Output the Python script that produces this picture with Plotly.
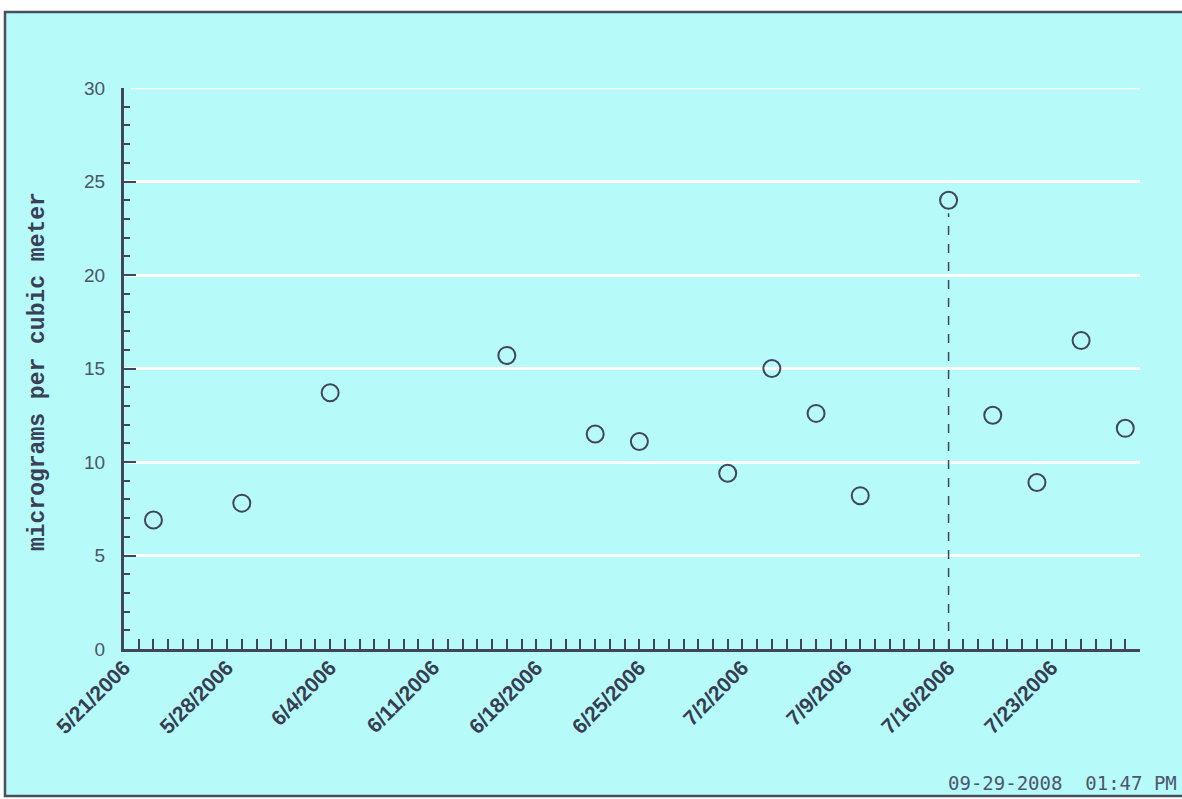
import plotly.graph_objects as go

# Data
dates = ["2006-05-23", "2006-05-29", "2006-06-04", "2006-06-16", "2006-06-22",
         "2006-06-25", "2006-07-01", "2006-07-04", "2006-07-07", "2006-07-10",
         "2006-07-16", "2006-07-19", "2006-07-22", "2006-07-25", "2006-07-28"]
values = [6.9, 7.8, 13.7, 15.7, 11.5, 11.1, 9.4, 15.0, 12.6, 8.2,
          24.0, 12.5, 8.9, 16.5, 11.8]
marked_date = "2006-07-16"
marked_value = 24.0
x_range = ["2006-05-21", "2006-07-29"]
y_range = [0, 30]
y_title = "micrograms per cubic meter"
footer = "09-29-2008&nbsp;&nbsp;01:47 PM"

BG = "#b6fafa"
DARK = "#41465a"

W, H = 1182, 799
L, R, T, B = 124, 1140, 88, 649
pw, ph = R - L, B - T

def px_x(x):
    return (x - L) / pw

def px_y(y):
    return (B - y) / ph

fig = go.Figure()
fig.add_trace(go.Scatter(
    x=[marked_date, marked_date], y=[0, marked_value - 0.7], mode="lines",
    line=dict(color=DARK, width=1.5, dash="dash"), hoverinfo="skip",
    showlegend=False))
fig.add_trace(go.Scatter(
    x=dates, y=values, mode="markers",
    marker=dict(symbol="circle-open", size=17, color=DARK,
                line=dict(width=2, color=DARK)),
    showlegend=False))

fig.update_layout(
    width=W, height=H,
    margin=dict(l=L, r=W - R, t=T, b=H - B, autoexpand=False),
    paper_bgcolor="white",
    plot_bgcolor="rgba(0,0,0,0)",
    showlegend=False,
    xaxis=dict(
        type="date", range=x_range,
        tick0=x_range[0], dtick=7 * 86400000,
        tickformat="%-m/%-d/%Y", tickangle=-45,
        ticks="inside", ticklen=10, tickwidth=2, tickcolor=DARK,
        minor=dict(dtick=86400000, tick0=x_range[0], ticks="inside",
                   ticklen=10, tickwidth=2, tickcolor=DARK, showgrid=False),
        showline=True, linecolor=DARK, linewidth=3,
        showgrid=False, zeroline=False, ticklabelstandoff=-5,
        tickfont=dict(family="Liberation Sans", size=21, color="#383d52",
                      weight="bold"),
    ),
    yaxis=dict(
        range=y_range, dtick=5, tick0=0,
        ticks="inside", ticklen=12, tickwidth=2, tickcolor=DARK,
        minor=dict(dtick=1, ticks="inside", ticklen=6, tickwidth=2,
                   tickcolor=DARK, showgrid=False),
        showline=True, linecolor=DARK, linewidth=3,
        showgrid=True, gridcolor="white", gridwidth=2.5,
        zeroline=False, ticklabelstandoff=12,
        tickfont=dict(family="Liberation Sans", size=19, color="#4d5467"),
    ),
    shapes=[
        dict(type="rect", xref="paper", yref="paper",
             x0=px_x(5), x1=px_x(1200), y0=px_y(796), y1=px_y(12),
             fillcolor=BG, line=dict(color="#4a4f5e", width=2.5),
             layer="below"),
        dict(type="line", xref="paper", yref="y",
             x0=px_x(131), x1=1, y0=y_range[1], y1=y_range[1],
             line=dict(color="white", width=2.5), layer="below"),
    ],
    annotations=[
        dict(text="<b>" + y_title + "</b>", xref="paper", yref="paper",
             x=px_x(38), y=px_y(372), textangle=-90, showarrow=False,
             xanchor="center", yanchor="middle",
             font=dict(family="Liberation Mono", size=23, color="#3a4055")),
        dict(text=footer, xref="paper", yref="paper",
             x=px_x(1179), y=px_y(783), showarrow=False,
             xanchor="right", yanchor="middle",
             font=dict(family="DejaVu Sans Mono", size=19, color="#4e566c")),
    ],
)

fig.write_html(
    "out.html",
    config={"displayModeBar": False},
    post_script="document.body.style.margin='0';"
                "document.body.style.overflow='hidden';",
)
